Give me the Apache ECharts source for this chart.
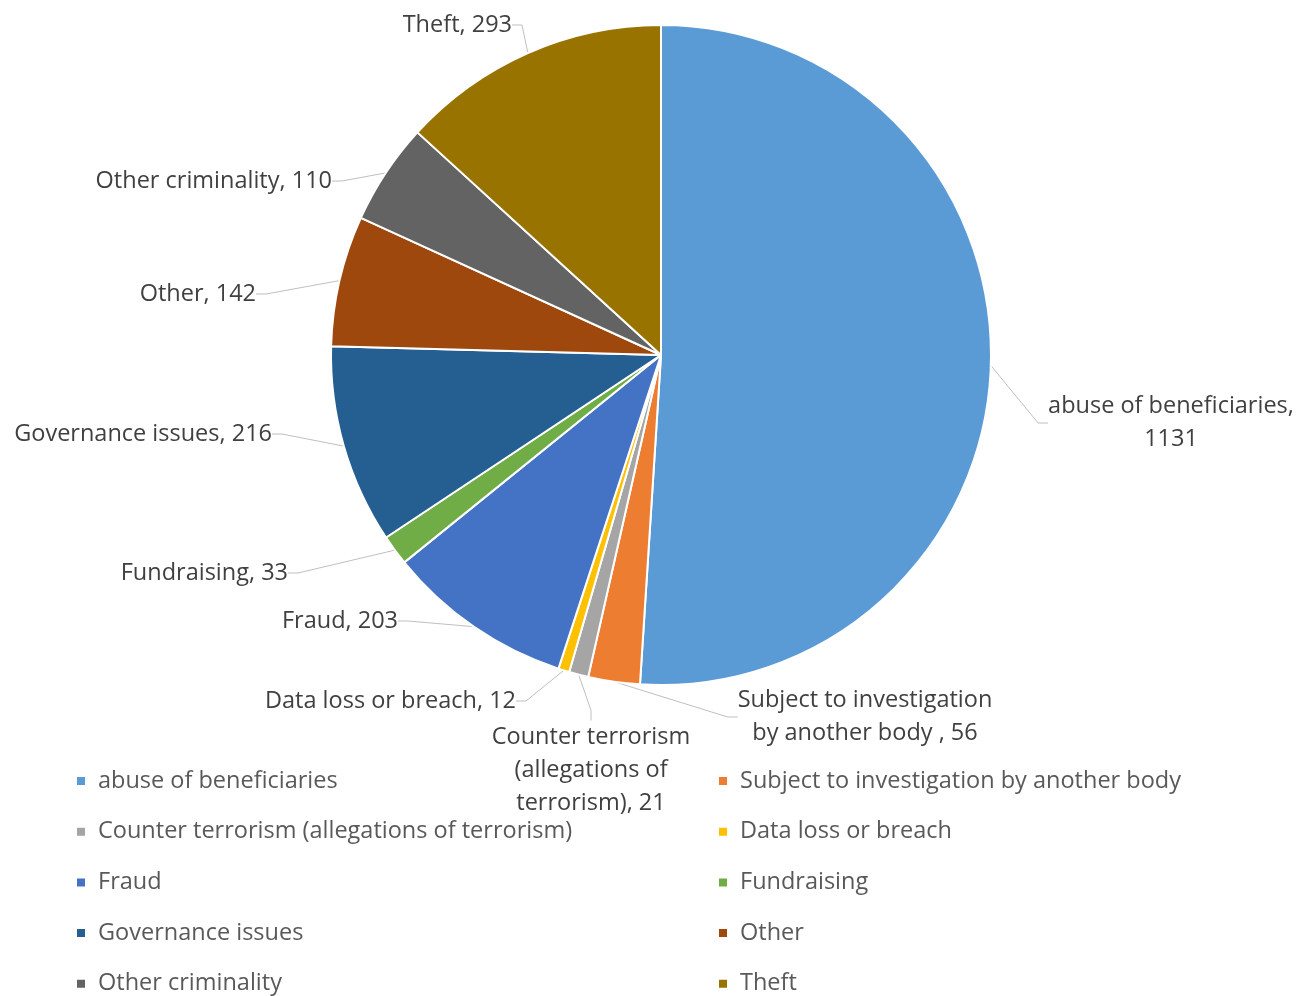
<!DOCTYPE html>
<html>
<head>
<meta charset="utf-8">
<script src="https://cdn.jsdelivr.net/npm/echarts@6/dist/echarts.min.js"></script>
<style>
html,body{margin:0;padding:0;background:#fff;}
#chart{width:1313px;height:996px;}
</style>
</head>
<body>
<div id="chart"></div>
<script>
const categories = [
  'abuse of beneficiaries',
  'Subject to investigation by another body',
  'Counter terrorism (allegations of terrorism)',
  'Data loss or breach',
  'Fraud',
  'Fundraising',
  'Governance issues',
  'Other',
  'Other criminality',
  'Theft'
];
const values = [1131, 56, 21, 12, 203, 33, 216, 142, 110, 293];
const labelTexts = [
  'abuse of beneficiaries,\n1131',
  'Subject to investigation\nby another body , 56',
  'Counter terrorism\n(allegations of\nterrorism), 21',
  'Data loss or breach, 12',
  'Fraud, 203',
  'Fundraising, 33',
  'Governance issues, 216',
  'Other, 142',
  'Other criminality, 110',
  'Theft, 293'
];
const colors = ['#5B9BD5','#ED7D31','#A5A5A5','#FFC000','#4472C4','#70AD47','#255E91','#9E480E','#636363','#997300'];

// label anchor layout (text placement only)
const labelAnchors = [
  {x:1171, y:423, align:'center'},
  {x:865,  y:717, align:'center'},
  {x:591,  y:770, align:'center'},
  {x:516,  y:701, align:'right'},
  {x:398,  y:621, align:'right'},
  {x:288,  y:573, align:'right'},
  {x:272,  y:434, align:'right'},
  {x:256,  y:294, align:'right'},
  {x:332,  y:181, align:'right'},
  {x:512,  y:25,  align:'right'}
];

const font = '"Open Sans", "Liberation Sans", sans-serif';
const chart = echarts.init(document.getElementById('chart'), null, {renderer:'canvas'});
const data = categories.map((c,i)=>({name:c, value:values[i], itemStyle:{color:colors[i]}}));
const legendText = {color:'#595959', fontSize:23.5, fontFamily:font, lineHeight:22, padding:[0,0,0,7]};
const legendBase = {orient:'vertical', top:769, height:400, padding:0, itemWidth:10, itemHeight:10,
  icon:'rect', itemGap:26.7, textStyle:legendText, selectedMode:false};
chart.setOption({
  animation:false,
  legend:[
    Object.assign({left:75, data:categories.filter((c,i)=>i%2===0)}, legendBase),
    Object.assign({left:717, data:categories.filter((c,i)=>i%2===1)}, legendBase)
  ],
  series:[{
    type:'pie',
    center:[661,355],
    radius:330,
    startAngle:90,
    clockwise:true,
    avoidLabelOverlap:false,
    itemStyle:{borderColor:'#fff', borderWidth:2},
    label:{show:true, position:'outside', color:'#404040', fontSize:23.5, fontFamily:font, lineHeight:33,
      formatter:p=>labelTexts[p.dataIndex]},
    labelLine:{show:true, lineStyle:{color:'#BFBFBF', width:1}, length:10, length2:10},
    emphasis:{disabled:true},
    labelLayout:p=>{
      const a = labelAnchors[p.dataIndex];
      return {x:a.x, y:a.y, align:a.align, verticalAlign:'middle'};
    },
    data:data
  }]
});
</script>
</body>
</html>
